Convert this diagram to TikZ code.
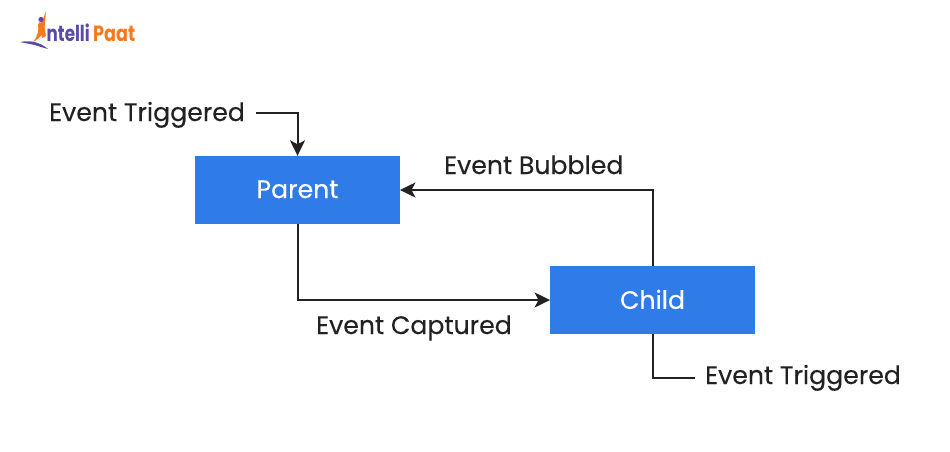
\documentclass[tikz,border=0pt]{standalone}
\usepackage{fontspec}
\setmainfont[FakeBold=0.25]{Poppins}
\newfontfamily\logofont{Poppins}
\usetikzlibrary{arrows.meta,calc}
\definecolor{boxblue}{HTML}{2F7BE8}
\definecolor{ink}{HTML}{222222}
\definecolor{logoor}{HTML}{F47A20}
\definecolor{logopu}{HTML}{5B4BA8}
\tikzset{
  boxnode/.style={fill=boxblue,text=white,minimum width=204.5pt,minimum height=68pt,inner sep=0pt,font=\fontsize{25.2}{25.2}\selectfont},
  lbl/.style={text=ink,inner sep=0pt,font=\fontsize{25.2}{25.2}\selectfont,anchor=base west},
  conn/.style={draw=ink,line width=2pt},
  arr/.style={conn,-{Stealth[length=15.5pt,width=15pt,inset=4pt]}}
}
\begin{document}
\begin{tikzpicture}[x=1pt,y=-1pt]
\useasboundingbox (0,0) rectangle (950,451);
\fill[white] (0,0) rectangle (950,451);
% logo
\fill[logopu] (20,42) .. controls (30,40) and (40,42) .. (48,49) .. controls (40,47) and (36,45) .. (30,44) -- cycle;
\fill[logoor] (46,11) -- (45,24) .. controls (44,32) and (42,37) .. (33,42) .. controls (38,36) and (39,30) .. (38,24) -- (42,22) -- cycle;
\fill[logoor] (39,22) -- (44,24) -- (46,36) -- (42,38) -- cycle;
\fill[logopu] (41,19.5) circle (2.6);
\node[inner sep=0pt,anchor=base west,text=logopu] (logoa) at (46.5,41) {\scalebox{0.76}[1]{\logofont\fontsize{22}{22}\selectfont\bfseries ntelli}};
\node[inner sep=0pt,anchor=base west,text=logoor] (logob) at (93,41) {\scalebox{0.80}[1]{\logofont\fontsize{22}{22}\selectfont\bfseries Paat}};
% boxes
\node[boxnode] (parent) at (297.5,190) {\raisebox{1.5pt}{Parent}};
\node[boxnode] (child) at (652.5,300) {\raisebox{1.5pt}{Child}};
% labels
\node[lbl] (t1) at (49,121) {Event Triggered};
\node[lbl] (bub) at (444,174) {Event Bubbled};
\node[lbl] (cap) at (316,334) {Event Captured};
\node[lbl] (t2) at (705,384) {Event Triggered};
% connectors
\coordinate (s1) at (255.5,113);
\coordinate (s2) at (695,377.5);
\draw[arr] (s1) -| (parent.north);
\draw[arr] (child.north) |- (parent.east);
\draw[arr] (parent.south) |- (child.west);
\draw[conn] (child.south) |- (s2);
\end{tikzpicture}
\end{document}
